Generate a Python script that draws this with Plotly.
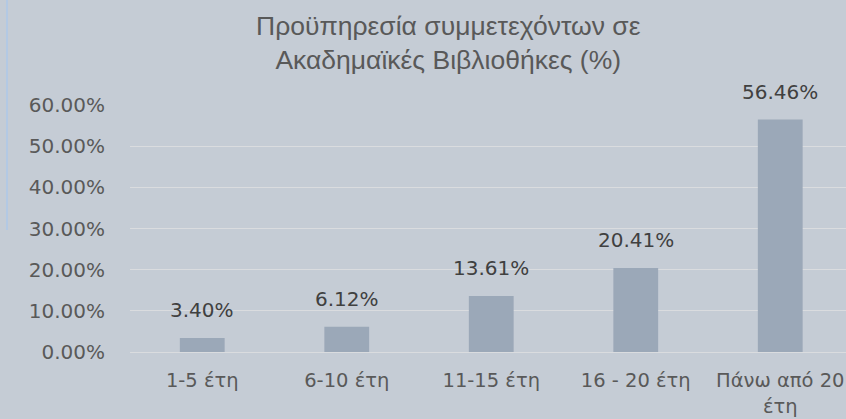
import plotly.graph_objects as go

categories = ["1-5 έτη", "6-10 έτη", "11-15 έτη", "16 - 20 έτη", "Πάνω από 20<br>έτη"]
values_pct = [3.40, 6.12, 13.61, 20.41, 56.46]
tick_vals_pct = [0, 10, 20, 30, 40, 50, 60]
title_text = "Προϋπηρεσία συμμετεχόντων σε<br>Ακαδημαϊκές Βιβλιοθήκες (%)"

values = [v / 100 for v in values_pct]
tick_vals = [t / 100 for t in tick_vals_pct]

BG = "#c5ccd5"
BAR = "#9ba8b8"
GRID = "#dadcdf"
FONT = "DejaVu Sans, Liberation Sans, sans-serif"

fig = go.Figure()
fig.add_trace(go.Bar(
    x=list(range(len(categories))),
    y=values,
    marker=dict(color=BAR, line=dict(width=0)),
    hoverinfo="skip",
))

for i, v in enumerate(values):
    fig.add_annotation(
        x=i, y=v, text=f"{v*100:.2f}%", showarrow=False,
        yanchor="bottom", yshift=14,
        font=dict(family=FONT, size=20, color="#404040"),
    )

# chart title (as annotation for precise multi-line placement)
fig.add_annotation(
    text=title_text, xref="paper", yref="paper", x=0.4455, y=1.39,
    xanchor="center", yanchor="top", showarrow=False, align="center",
    font=dict(family="Liberation Sans, Arial, sans-serif", size=26.5, color="#595959"),
)

# thin light-blue sliver at left edge
fig.add_shape(type="line", xref="paper", yref="paper",
              x0=(7 - 130) / 716, x1=(7 - 130) / 716,
              y0=1 + 105 / 247, y1=1 - (230 - 105) / 247,
              line=dict(color="#b3c9e4", width=2))

fig.update_layout(
    width=846, height=419,
    paper_bgcolor=BG, plot_bgcolor=BG,
    margin=dict(l=130, r=0, t=105, b=67),
    bargap=0.69,
    showlegend=False,
    xaxis=dict(
        tickmode="array", tickvals=list(range(len(categories))), ticktext=categories,
        range=[-0.5, 4.455], showgrid=False, zeroline=False, showline=False,
        tickfont=dict(family=FONT, size=19.5, color="#595959"),
        ticks="outside", ticklen=11, tickcolor="rgba(0,0,0,0)",
        ticklabeloverflow="allow",
        fixedrange=True,
    ),
    yaxis=dict(
        range=[0, 0.6], tickvals=tick_vals, tickformat=".2%",
        showgrid=True, gridcolor=GRID, gridwidth=1.3,
        zeroline=True, zerolinecolor=GRID, zerolinewidth=1.3,
        showline=False,
        tickfont=dict(family=FONT, size=20, color="#595959"),
        ticks="outside", ticklen=20, tickcolor="rgba(0,0,0,0)",
        fixedrange=True,
    ),
)

fig.write_html("out.html", config={"displayModeBar": False},
               post_script="document.body.style.margin='0';document.body.style.overflow='hidden';document.body.style.background='" + BG + "';")
